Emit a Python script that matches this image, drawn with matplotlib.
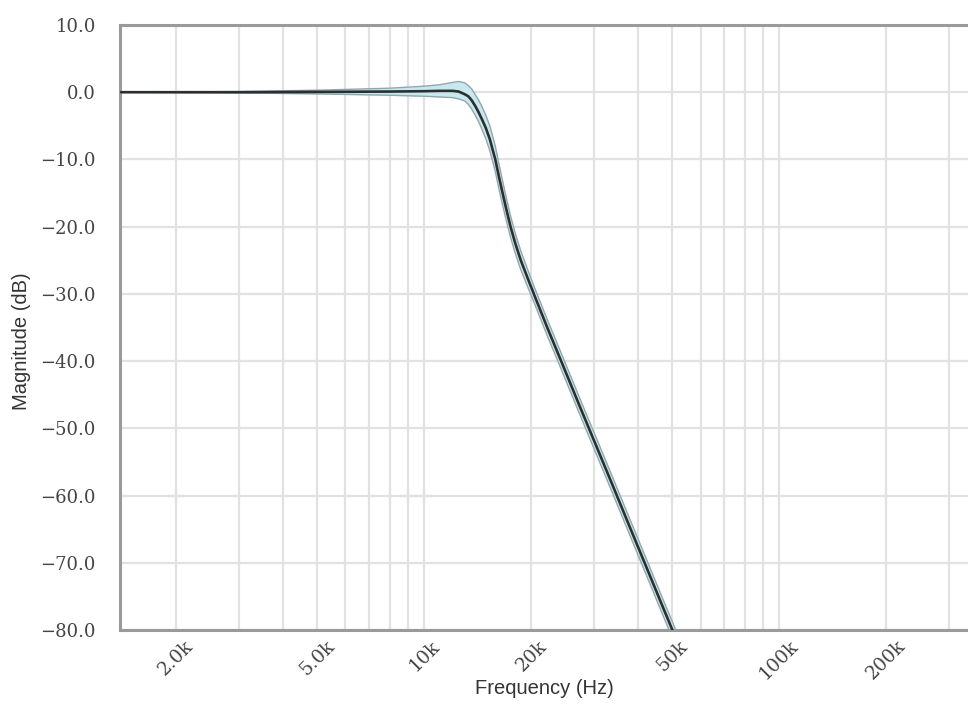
import numpy as np
import matplotlib
matplotlib.use("Agg")
import matplotlib.pyplot as plt
from matplotlib.ticker import FixedLocator, FixedFormatter, NullFormatter

# ---- data ----
freq_hz = [1400, 3000, 5000, 8000, 10000, 11000, 12000, 12500, 13000, 13300,
           13600, 13900, 14200, 14500, 14900, 15300, 15850, 16220, 16620, 17040,
           17500, 18050, 18700, 19500, 20350, 22200, 24300, 27300, 30500, 34000,
           38000, 42500, 47000, 50000, 53000]
mag_db = [0, 0, 0.05, 0.1, 0.15, 0.2, 0.2, 0.1, -0.3, -0.6,
          -1.2, -2.0, -2.9, -3.9, -5.3, -7.0, -10.0, -12.5, -15.0, -17.5,
          -20.0, -22.5, -25.0, -27.5, -30.0, -35.0, -40.0, -46.5, -52.6, -58.6,
          -64.8, -71.0, -76.6, -80.0, -83.2]
upper_db = [0, 0.1, 0.3, 0.6, 0.9, 1.1, 1.45, 1.6, 1.4, 1.0,
            0.5, -0.3, -1.1, -2.0, -3.4, -5.0, -8.0, -10.6, -13.2, -15.8,
            -18.4, -21.0, -23.6, -26.2, -28.8, -33.8, -38.8, -45.3, -51.4, -57.4,
            -63.6, -69.8, -75.4, -78.8, -82.0]
lower_db = [0, -0.1, -0.25, -0.45, -0.6, -0.7, -0.8, -1.0, -1.3, -1.8,
            -2.5, -3.4, -4.3, -5.4, -6.9, -8.7, -11.8, -14.3, -16.8, -19.2,
            -21.6, -24.0, -26.4, -28.8, -31.2, -36.2, -41.2, -47.7, -53.8, -59.8,
            -66.0, -72.2, -77.8, -81.2, -84.4]

xtick_values = [2000, 5000, 10000, 20000, 50000, 100000, 200000]
xtick_labels = ["2.0k", "5.0k", "10k", "20k", "50k", "100k", "200k"]
ytick_values = [10, 0, -10, -20, -30, -40, -50, -60, -70, -80]
ytick_labels = ["10.0", "0.0", "\u221210.0", "\u221220.0", "\u221230.0", "\u221240.0",
                "\u221250.0", "\u221260.0", "\u221270.0", "\u221280.0"]

W, H = 968, 709
fig = plt.figure(figsize=(W / 100, H / 100), dpi=100)
ax = fig.add_axes([120 / W, (H - 630) / H, 848 / W, 605 / H])

f = np.array(freq_hz, float)
ax.fill_between(f, lower_db, upper_db, color="#c9e7ee", zorder=2, linewidth=0)
ax.plot(f, upper_db, color="#90a8ac", lw=1.0, zorder=3)
ax.plot(f, lower_db, color="#90a8ac", lw=1.0, zorder=3)
ax.plot(f, mag_db, color="#2b2f30", lw=1.9, zorder=4, solid_capstyle="round",
        solid_joinstyle="round")

ax.set_xscale("log")
ax.set_xlim(1390, 340000)
ax.set_ylim(-80, 10)

minor = [m * 10 ** e for e in (3, 4, 5) for m in range(1, 10)]
ax.xaxis.set_major_locator(FixedLocator(xtick_values))
ax.xaxis.set_major_formatter(FixedFormatter(xtick_labels))
ax.xaxis.set_minor_locator(FixedLocator(minor))
ax.xaxis.set_minor_formatter(NullFormatter())
ax.yaxis.set_major_locator(FixedLocator(ytick_values))
ax.yaxis.set_major_formatter(FixedFormatter(ytick_labels))

ax.grid(True, which="both", axis="x", color="#e2e2e2", lw=1.6, zorder=1)
ax.grid(True, which="major", axis="y", color="#e2e2e2", lw=1.6, zorder=1)
ax.set_axisbelow(True)

ax.tick_params(which="both", length=0, colors="#444444")
ax.tick_params(axis="y", pad=17.5)
ax.tick_params(axis="x", pad=5)
for lab in ax.get_yticklabels():
    lab.set_fontfamily("DejaVu Serif")
    lab.set_fontsize(13)
for lab in ax.get_xticklabels():
    lab.set_fontfamily("DejaVu Serif")
    lab.set_fontsize(13.5)
    lab.set_rotation(45)
    lab.set_ha("center")
    lab.set_va("top")

for side in ("left", "top", "bottom"):
    ax.spines[side].set_color("#9a9a9a")
    ax.spines[side].set_linewidth(2.2)
ax.spines["right"].set_visible(False)

ax.set_xlabel("Frequency (Hz)", fontfamily="Liberation Sans", fontsize=14.5,
              color="#333333", va="center")
ax.set_ylabel("Magnitude (dB)", fontfamily="Liberation Sans", fontsize=14.5,
              color="#333333", va="center")
ax.xaxis.set_label_coords(0.5, (630 - 689) / 605)
ax.yaxis.set_label_coords((22 - 120) / 848, (630 - 341) / 605)

fig.savefig("out.png", dpi=100)
